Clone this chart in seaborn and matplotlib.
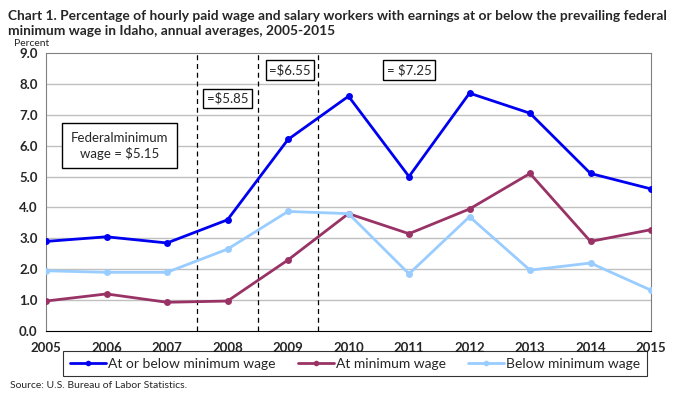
import matplotlib
matplotlib.use("Agg")
import matplotlib.pyplot as plt
import seaborn as sns
import pandas as pd

years = [2005, 2006, 2007, 2008, 2009, 2010, 2011, 2012, 2013, 2014, 2015]
at_or_below = [2.9, 3.05, 2.85, 3.6, 6.2, 7.6, 5.0, 7.7, 7.05, 5.1, 4.6]
at_min = [0.97, 1.2, 0.93, 0.97, 2.3, 3.8, 3.15, 3.95, 5.1, 2.9, 3.28]
below_min = [1.95, 1.9, 1.9, 2.65, 3.87, 3.8, 1.85, 3.7, 1.97, 2.2, 1.32]
series_names = ["At or below minimum wage", "At minimum wage", "Below minimum wage"]
colors = ["#0000F0", "#993366", "#99CCFF"]
wage_change_x = [2007.5, 2008.5, 2009.5]
y_ticks = [0, 1, 2, 3, 4, 5, 6, 7, 8, 9]

df = pd.DataFrame({
    "year": years * 3,
    "value": at_or_below + at_min + below_min,
    "series": [series_names[0]] * 11 + [series_names[1]] * 11 + [series_names[2]] * 11,
})

sns.set_theme(style="white")
plt.rcParams["font.family"] = ["Lato", "DejaVu Sans"]

fig = plt.figure(figsize=(6.73, 3.94), dpi=100)
ax = fig.add_axes([46 / 673, 1 - 331 / 394, (651 - 46) / 673, (331 - 53) / 394])

for y in y_ticks[1:-1]:
    ax.axhline(y, color="#C0C0C0", lw=1.0, zorder=0)

for xv in wage_change_x:
    ax.plot([xv, xv], [0, 9], color="black", lw=0.9, ls=(0, (4, 3)), zorder=1)

sns.lineplot(data=df, x="year", y="value", hue="series", palette=colors,
             marker="o", markersize=5, markeredgewidth=0, linewidth=2,
             ax=ax, legend=False, zorder=3)

ax.set_xlim(2005, 2015)
ax.set_ylim(0, 9)
ax.set_xticks(years)
ax.set_xticklabels([str(y) for y in years], fontsize=9.5, fontweight="bold")
ax.set_yticks(y_ticks)
ax.set_yticklabels([f"{y:.1f}" for y in y_ticks], fontsize=9.5, fontweight="bold")
ax.tick_params(axis="x", direction="out", length=5, width=0.8, color="black", pad=3)
ax.tick_params(axis="y", length=0, pad=6)
ax.set_xlabel("")
ax.set_ylabel("")
for s in ["top", "right"]:
    ax.spines[s].set_color("#808080")
    ax.spines[s].set_linewidth(0.8)
ax.spines["left"].set_color("#808080")
ax.spines["left"].set_linewidth(0.8)
ax.spines["bottom"].set_color("black")
ax.spines["bottom"].set_linewidth(0.8)

box = dict(boxstyle="square,pad=0.25", fc="white", ec="black", lw=1)
ax.text(2006.22, 6.0, "Federalminimum\nwage = $5.15", ha="center", va="center",
        fontsize=9.5, bbox=dict(boxstyle="square,pad=0.65", fc="white", ec="black", lw=1),
        linespacing=1.3)
ax.text(2008.0, 7.52, "=$5.85", ha="center", va="center", fontsize=9.5, bbox=box)
ax.text(2009.03, 8.45, "=$6.55", ha="center", va="center", fontsize=9.5, bbox=box)
ax.text(2011.0, 8.45, "= $7.25", ha="center", va="center", fontsize=9.5, bbox=box)

fig.text(8 / 673, 1 - 10 / 394,
         "Chart 1. Percentage of hourly paid wage and salary workers with earnings at or below the prevailing federal\nminimum wage in Idaho, annual averages, 2005-2015",
         ha="left", va="top", fontsize=9.9, fontweight="bold", linespacing=1.3)
fig.text(14 / 673, 1 - 44 / 394, "Percent", ha="left", va="center", fontsize=7.5)
fig.text(10 / 673, 1 - 386 / 394, "Source: U.S. Bureau of Labor Statistics.", ha="left",
         va="center", fontsize=7.5)

handles = [plt.Line2D([], [], color=c, lw=2, marker="o", markersize=4, markeredgewidth=0)
           for c in colors]
leg = fig.legend(handles, series_names, loc="center", bbox_to_anchor=(355 / 673, 1 - 363.5 / 394),
                 ncol=3, frameon=True, fancybox=False, edgecolor="black", fontsize=10,
                 handlelength=2.6, handletextpad=0.15, columnspacing=1.6, borderpad=0.45,
                 borderaxespad=0)
leg.get_frame().set_linewidth(0.8)

fig.savefig("out.png", dpi=100)
